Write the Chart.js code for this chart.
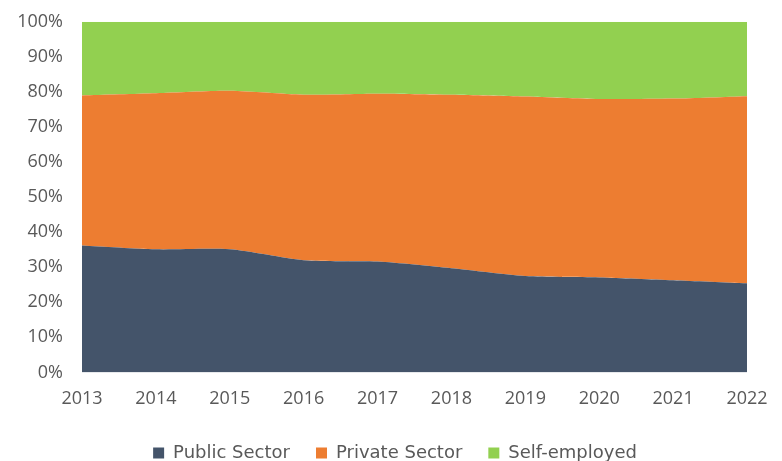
<!DOCTYPE html>
<html>
<head>
<meta charset="utf-8">
<script src="https://cdn.jsdelivr.net/npm/chart.js@4/dist/chart.umd.min.js"></script>
<style>
  html, body { margin: 0; padding: 0; background: #fff; }
  #wrap { width: 782px; height: 461px; }
</style>
</head>
<body>
<div id="wrap"><canvas id="areaChart"></canvas></div>
<script>
// Employment share by sector (percent of total)
const years = ['2013', '2014', '2015', '2016', '2017', '2018', '2019', '2020', '2021', '2022'];
const publicSector = [36.2, 35.1, 35.1, 32.0, 31.6, 29.7, 27.5, 27.1, 26.3, 25.4];
const privateSector = [42.8, 44.5, 45.2, 47.2, 47.9, 49.5, 51.2, 50.9, 51.8, 53.4];
const selfEmployed = [21.0, 20.4, 19.7, 20.8, 20.5, 20.8, 21.3, 22.0, 21.9, 21.2];
const yTicks = [0, 10, 20, 30, 40, 50, 60, 70, 80, 90, 100];

Chart.defaults.font.family = '"Open Sans", sans-serif';
Chart.defaults.color = '#595959';

function areaSet(label, data, color, fill) {
    return {
        label: label,
        data: data,
        backgroundColor: color,
        borderColor: color,
        borderWidth: 0,
        pointRadius: 0,
        fill: fill,
        tension: 0.25
    };
}

const ctx = document.getElementById('areaChart').getContext('2d');
new Chart(ctx, {
    type: 'line',
    data: {
        labels: years,
        datasets: [
            areaSet('Public Sector', publicSector, '#44546A', 'origin'),
            areaSet('Private Sector', privateSector, '#ED7D31', '-1'),
            areaSet('Self-employed', selfEmployed, '#92D050', '-1')
        ]
    },
    options: {
        responsive: true,
        maintainAspectRatio: false,
        animation: false,
        layout: { padding: { top: -1, right: 0, left: 8, bottom: -11 } },
        scales: {
            x: {
                grid: { display: false },
                border: { display: false },
                ticks: { font: { size: 18 }, padding: 8, maxRotation: 0 },
                afterFit: function (axis) {
                    // leave room on the right for the last year label
                    axis.paddingRight = 35;
                }
            },
            y: {
                stacked: true,
                min: 0,
                max: 100,
                afterBuildTicks: function (axis) {
                    axis.ticks = yTicks.map(function (v) { return { value: v }; });
                },
                afterFit: function (axis) {
                    axis.width = 74;
                },
                grid: { display: false },
                border: { display: false },
                ticks: {
                    font: { size: 18 },
                    padding: 11,
                    callback: function (v) { return v + '%'; }
                }
            }
        },
        plugins: {
            legend: {
                position: 'bottom',
                labels: {
                    font: { family: '"DejaVu Sans", sans-serif', size: 18 },
                    boxWidth: 11,
                    boxHeight: 11,
                    padding: 26,
                    color: '#595959'
                }
            },
            tooltip: { enabled: false }
        }
    }
});
</script>
</body>
</html>
